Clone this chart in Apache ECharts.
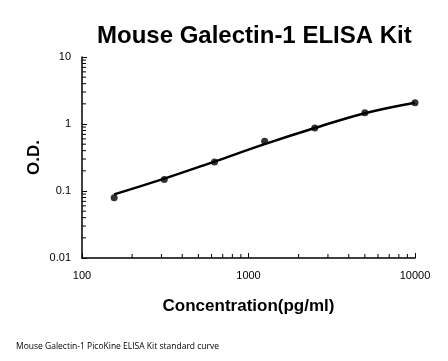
<!DOCTYPE html>
<html><head><meta charset="utf-8">
<script src="https://cdn.jsdelivr.net/npm/echarts@6/dist/echarts.min.js"></script>
<style>html,body{margin:0;padding:0;background:#fff}#c{width:448px;height:361px}</style>
</head><body><div id="c"></div>
<script>
var concentrations = [156, 312, 625, 1250, 2500, 5000, 10000];
var odValues = [0.079, 0.149, 0.271, 0.552, 0.871, 1.475, 2.08];
var curveValues = [0.089, 0.153, 0.275, 0.50, 0.87, 1.45, 2.08];
var xTickLabels = [100, 1000, 10000];
var yTickLabels = [0.01, 0.1, 1, 10];
var xMinorTicks = [200,300,400,500,600,700,800,900,2000,3000,4000,5000,6000,7000,8000,9000];
var yMinorTicks = [0.02,0.03,0.04,0.05,0.06,0.07,0.08,0.09,0.2,0.3,0.4,0.5,0.6,0.7,0.8,0.9,2,3,4,5,6,7,8,9];

var chart = echarts.init(document.getElementById('c'));
var font = 'Liberation Sans, Arial, sans-serif';
chart.setOption({
  animation: false,
  title: {
    text: 'Mouse Galectin-1 ELISA Kit',
    left: 92, top: 19,
    textStyle: {fontFamily: font, fontWeight: 'bold', fontSize: 24, color: '#000'}
  },
  graphic: [{
    type: 'text', left: 16, top: 342,
    style: {text: 'Mouse Galectin-1 PicoKine ELISA Kit standard curve', font: '8.5px "Open Sans", sans-serif', fill: '#000'}
  }],
  grid: {left: 82, right: 33, top: 57, bottom: 103, containLabel: false, outerBoundsMode: 'none'},
  xAxis: {
    type: 'log', logBase: 10, min: xTickLabels[0], max: xTickLabels[xTickLabels.length-1],
    name: 'Concentration(pg/ml)', nameLocation: 'middle', nameGap: 40, nameMoveOverlap: false,
    nameTextStyle: {fontFamily: font, fontWeight: 'bold', fontSize: 17, color: '#000'},
    axisLine: {lineStyle: {color: '#000', width: 1.5}},
    axisTick: {inside: true, length: 5, lineStyle: {color: '#000'}},
    axisLabel: {fontFamily: font, fontSize: 11, color: '#000', margin: 12,
      formatter: function(v){ return String(v); }},
    splitLine: {show: false}
  },
  yAxis: {
    type: 'log', logBase: 10, min: yTickLabels[0], max: yTickLabels[yTickLabels.length-1],
    name: 'O.D.', nameLocation: 'middle', nameGap: 39, nameMoveOverlap: false,
    nameTextStyle: {fontFamily: font, fontWeight: 'bold', fontSize: 17, color: '#000'},
    axisLine: {show: true, lineStyle: {color: '#000', width: 1.5}},
    axisTick: {show: true, inside: true, length: 5, lineStyle: {color: '#000'}},
    axisLabel: {fontFamily: font, fontSize: 11, color: '#000', margin: 11,
      formatter: function(v){ return String(v); }},
    splitLine: {show: false}
  },
  series: [
    {
      type: 'custom', silent: true, z: 1,
      data: xMinorTicks.map(function(v){ return [v]; }),
      renderItem: function(params, api){
        var p = api.coord([api.value(0), yTickLabels[0]]);
        return {type: 'line', shape: {x1: p[0], y1: p[1], x2: p[0], y2: p[1]-4}, style: {stroke: '#000', lineWidth: 1}};
      },
      encode: {x: 0}
    },
    {
      type: 'custom', silent: true, z: 1,
      data: yMinorTicks.map(function(v){ return [xTickLabels[0], v]; }),
      renderItem: function(params, api){
        var p = api.coord([xTickLabels[0], api.value(1)]);
        return {type: 'line', shape: {x1: p[0], y1: p[1], x2: p[0]+4, y2: p[1]}, style: {stroke: '#000', lineWidth: 1}};
      },
      encode: {x: 0, y: 1}
    },
    {
      type: 'line', smooth: 0.4, showSymbol: false, z: 2,
      data: concentrations.map(function(c, i){ return [c, curveValues[i]]; }),
      lineStyle: {color: '#000', width: 2.5}
    },
    {
      type: 'scatter', z: 3, symbol: 'circle', symbolSize: 7,
      data: concentrations.map(function(c, i){ return [c, odValues[i]]; }),
      itemStyle: {color: '#000'}
    }
  ]
});
</script></body></html>
